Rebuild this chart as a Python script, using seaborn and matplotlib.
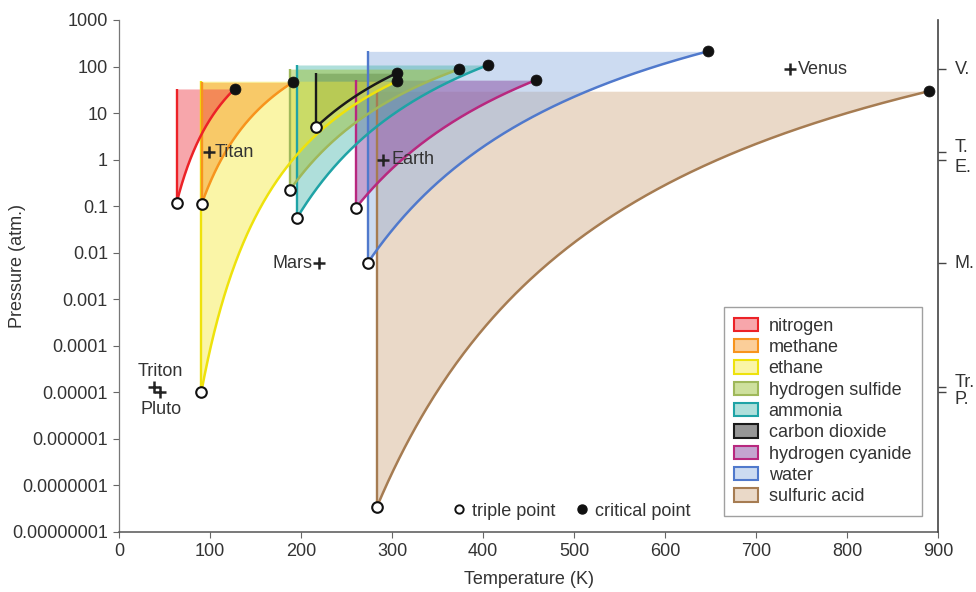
import numpy as np
import pandas as pd
import matplotlib
matplotlib.use("Agg")
import matplotlib.pyplot as plt
from matplotlib.patches import Patch
from matplotlib.lines import Line2D
from matplotlib.ticker import FixedLocator, FuncFormatter, NullLocator, NullFormatter
import seaborn as sns

# Phase data: triple and critical points (temperature in K, pressure in atm)
substances = ["nitrogen", "methane", "ethane", "hydrogen sulfide", "ammonia",
              "carbon dioxide", "hydrogen cyanide", "water", "sulfuric acid"]
triple_T = [63.2, 90.7, 90.4, 187.7, 195.4, 216.6, 259.9, 273.2, 283.5]
triple_P = [0.116, 0.11, 1.0e-5, 0.22, 0.055, 5.0, 0.09, 0.006, 3.5e-8]
critical_T = [127.0, 191.0, 305.5, 374.0, 405.5, 305.0, 458.0, 647.0, 890.0]
critical_P = [33.0, 46.0, 48.5, 88.0, 108.0, 72.0, 51.0, 212.0, 29.5]

line_colors = ["#ec2227", "#f7941d", "#eee20c", "#9fb85a", "#1fa3a6",
               "#1a1a1a", "#b8287f", "#5079cc", "#a67c52"]
fill_colors = ["#ee3b45", "#f7941d", "#f6ea3c", "#9fc23c", "#39b0a5",
               "#2e2e2e", "#8a4ca3", "#8fb1e2", "#cfa57c"]
fill_alpha = [0.45, 0.45, 0.45, 0.5, 0.4, 0.5, 0.5, 0.45, 0.42]

# Planetary surface conditions
planets = ["Venus", "Titan", "Earth", "Mars", "Triton", "Pluto"]
planet_T = [737, 99, 290, 220, 39, 45]
planet_P = [88, 1.45, 1.0, 0.006, 1.3e-5, 1.0e-5]
planet_abbrev = ["V.", "T.", "E.", "M.", "Tr.", "P."]

x_ticks = [0, 100, 200, 300, 400, 500, 600, 700, 800, 900]
y_ticks = [1e-8, 1e-7, 1e-6, 1e-5, 1e-4, 1e-3, 1e-2, 1e-1, 1, 10, 100, 1000]

sns.set_theme(style="ticks")
plt.rcParams["font.family"] = ["Liberation Sans", "DejaVu Sans"]
text_c = "#333333"
plt.rcParams["text.color"] = text_c
plt.rcParams["axes.labelcolor"] = text_c
plt.rcParams["xtick.color"] = "#666666"
plt.rcParams["ytick.color"] = "#666666"
plt.rcParams["xtick.labelcolor"] = text_c
plt.rcParams["ytick.labelcolor"] = text_c

fig = plt.figure(figsize=(9.76, 5.92), dpi=100)
ax = fig.add_axes([119 / 976, 1 - 532 / 592, 819 / 976, 512 / 592])
ax.set_yscale("log")
ax.set_xlim(0, 900)
ax.set_ylim(1e-8, 1e3)

n = len(substances)


def vapour_curve(i, num=300):
    """Clausius-Clapeyron curve joining the triple point to the critical point."""
    T = np.linspace(triple_T[i], critical_T[i], num)
    b = np.log(critical_P[i] / triple_P[i]) / (1 / triple_T[i] - 1 / critical_T[i])
    P = triple_P[i] * np.exp(-b * (1 / T - 1 / triple_T[i]))
    return T, P


# Liquid regions, drawn from the last substance to the first
rows = []
for k, i in enumerate(reversed(range(n))):
    T, P = vapour_curve(i)
    ax.fill_between(T, P, critical_P[i], color=fill_colors[i],
                    alpha=fill_alpha[i], lw=0, zorder=1 + 0.01 * k)
    rows.append(pd.DataFrame({"T": T, "P": P, "substance": substances[i]}))
curves = pd.concat(rows, ignore_index=True)

# Melting lines (vertical) at the triple-point temperature
for i in reversed(range(n)):
    ax.vlines(triple_T[i], triple_P[i], critical_P[i], colors=line_colors[i],
              lw=1.7, zorder=3)

# Vapour pressure curves
sns.lineplot(data=curves, x="T", y="P", hue="substance",
             hue_order=list(reversed(substances)),
             palette=dict(zip(substances, line_colors)),
             estimator=None, sort=False, lw=1.8, legend=False, ax=ax, zorder=4)

# Triple and critical points
sns.scatterplot(x=triple_T, y=triple_P, marker="o", s=58, color="white",
                edgecolor="#111111", linewidth=1.5, ax=ax, zorder=6)
sns.scatterplot(x=critical_T, y=critical_P, marker="o", s=62, color="#111111",
                edgecolor="#111111", linewidth=0.5, ax=ax, zorder=6)

# Planet markers and labels
sns.scatterplot(x=planet_T, y=planet_P, marker="+", s=70, color="#222222",
                linewidth=1.8, ax=ax, zorder=7)
fs = 13
label_offsets = {
    "Venus": ((6, 0), "left", "center"),
    "Titan": ((4, 0), "left", "center"),
    "Earth": ((6, 0), "left", "center"),
    "Mars": ((-5, 0), "right", "center"),
    "Triton": ((4, 5), "center", "bottom"),
    "Pluto": ((1, -6), "center", "top"),
}
for name, T, P in zip(planets, planet_T, planet_P):
    off, ha, va = label_offsets[name]
    ax.annotate(name, (T, P), xytext=off, textcoords="offset points",
                ha=ha, va=va, fontsize=fs, color=text_c, zorder=8)

# Axes formatting
ax.xaxis.set_major_locator(FixedLocator(x_ticks))
ax.yaxis.set_major_locator(FixedLocator(y_ticks))
ax.yaxis.set_minor_locator(NullLocator())


def plain_decimal(v, pos):
    k = int(round(np.log10(v)))
    return f"{v:.{-k}f}" if k < 0 else f"{int(round(v))}"


ax.yaxis.set_major_formatter(FuncFormatter(plain_decimal))
ax.tick_params(axis="both", labelsize=fs, length=4, width=0.8, direction="out", pad=4)
ax.set_xlabel("Temperature (K)", fontsize=fs, labelpad=8)
ax.set_ylabel("Pressure (atm.)", fontsize=fs)
ax.yaxis.set_label_coords(-0.1135, 0.52)
for s in ["top", "right"]:
    ax.spines[s].set_visible(False)
ax.spines["left"].set_color("#777777")
ax.spines["bottom"].set_color("#555555")
ax.spines["left"].set_linewidth(0.9)
ax.spines["bottom"].set_linewidth(1.1)

# Right axis marking planetary surface pressures
ax2 = ax.twinx()
ax2.set_yscale("log")
ax2.set_ylim(ax.get_ylim())
ax2.yaxis.set_major_locator(FixedLocator(planet_P))
ax2.yaxis.set_minor_locator(NullLocator())
ax2.yaxis.set_major_formatter(NullFormatter())
ax2.tick_params(axis="y", length=6, width=1.0, color="#444444", direction="out")
for s in ["top", "left", "bottom"]:
    ax2.spines[s].set_visible(False)
ax2.spines["right"].set_color("#444444")
ax2.spines["right"].set_linewidth(1.2)

# Abbreviations beside the right-hand ticks; close pairs are nudged apart
abbrev_shift = {"V.": 0, "T.": 3, "E.": -6, "M.": 0, "Tr.": 3, "P.": -5}
for P, lab in zip(planet_P, planet_abbrev):
    ax2.annotate(lab, (1, P), xycoords=ax2.get_yaxis_transform(),
                 xytext=(12, abbrev_shift[lab]), textcoords="offset points",
                 ha="left", va="center", fontsize=fs, color=text_c,
                 annotation_clip=False)

# Substance legend
handles = [Patch(facecolor=matplotlib.colors.to_rgba(fc, a), edgecolor=lc, lw=1.5)
           for fc, lc, a in zip(fill_colors, line_colors, fill_alpha)]
leg = ax.legend(handles, substances, loc="lower right",
                bbox_to_anchor=(0.9805, 0.031), borderaxespad=0,
                fontsize=fs, frameon=True, fancybox=False, edgecolor="#888888",
                handlelength=1.3, handleheight=0.75, handletextpad=0.6,
                labelspacing=0.24, borderpad=0.6)
leg.get_frame().set_linewidth(1.0)
leg.set_zorder(10)
ax.add_artist(leg)

# Point-type key
key = [Line2D([], [], ls="none", marker="o", ms=6, mfc="white", mec="#111111", mew=1.4),
       Line2D([], [], ls="none", marker="o", ms=6.5, mfc="#111111", mec="#111111")]
ax.legend(key, ["triple point", "critical point"], loc="center",
          bbox_to_anchor=(0.553, 0.041), ncol=2, frameon=False, fontsize=fs,
          handlelength=0.6, handletextpad=0.4, columnspacing=1.2, borderaxespad=0)

fig.savefig("out.png", dpi=100)
